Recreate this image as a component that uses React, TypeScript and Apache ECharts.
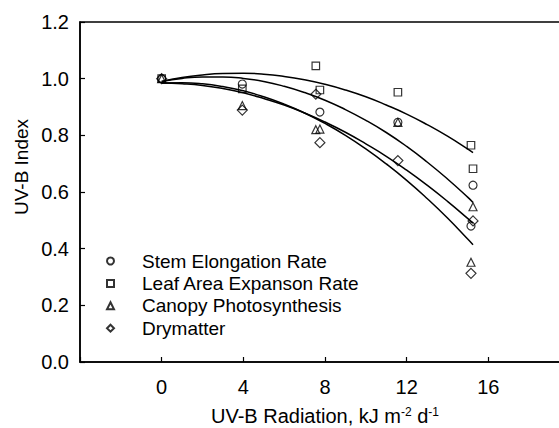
import React, { useEffect, useRef } from "react";
import * as echarts from "echarts";

// Observed data points [UV-B radiation, UV-B index]
const stemElongation: number[][] = [
  [0, 1.0], [3.95, 0.981], [7.75, 0.882], [11.57, 0.846], [15.25, 0.624], [15.15, 0.48],
];
const leafArea: number[][] = [
  [0, 1.0], [3.95, 0.964], [7.55, 1.045], [7.75, 0.96], [11.57, 0.952], [15.15, 0.765], [15.25, 0.682],
];
const canopyPhoto: number[][] = [
  [0, 1.0], [3.95, 0.905], [7.55, 0.82], [7.75, 0.822], [11.57, 0.846], [15.25, 0.548], [15.15, 0.352],
];
const drymatter: number[][] = [
  [0, 1.0], [3.95, 0.889], [7.55, 0.945], [7.75, 0.774], [11.57, 0.711], [15.25, 0.498], [15.15, 0.313],
];

// Fitted curves
const curveX: number[] = [0, 1, 2, 3, 4, 5, 6, 7, 8, 9, 10, 11, 12, 13, 14, 15, 15.25];
const curve1: number[] = [0.99, 1.004, 1.013, 1.018, 1.019, 1.016, 1.008, 0.996, 0.98, 0.96, 0.936, 0.907, 0.875, 0.838, 0.797, 0.751, 0.739];
const curve2: number[] = [0.99, 1.001, 1.006, 1.006, 1.001, 0.99, 0.973, 0.951, 0.924, 0.891, 0.853, 0.81, 0.761, 0.706, 0.646, 0.581, 0.563];
const curve3: number[] = [0.985, 0.982, 0.976, 0.965, 0.95, 0.93, 0.907, 0.879, 0.847, 0.811, 0.77, 0.726, 0.677, 0.624, 0.567, 0.506, 0.49];
const curve4: number[] = [0.985, 0.986, 0.982, 0.972, 0.957, 0.936, 0.91, 0.879, 0.842, 0.8, 0.752, 0.699, 0.641, 0.577, 0.508, 0.433, 0.414];

const seriesNames: string[] = [
  "Stem Elongation Rate",
  "Leaf Area Expanson Rate",
  "Canopy Photosynthesis",
  "Drymatter",
];
const seriesSymbols: string[] = ["circle", "rect", "triangle", "diamond"];
const seriesSizes: number[] = [8, 7.5, 8, 10];

const FONT = "'Liberation Sans', Arial, Helvetica, sans-serif";

export default function App() {
  const ref = useRef<HTMLDivElement>(null);

  useEffect(() => {
    if (!ref.current) return;
    const chart = echarts.init(ref.current, undefined, { renderer: "svg" });
    const pointSets = [stemElongation, leafArea, canopyPhoto, drymatter];
    const curves = [curve1, curve2, curve3, curve4];

    const scatterSeries = pointSets.map((d, i) => ({
      type: "scatter",
      name: seriesNames[i],
      data: d,
      symbol: seriesSymbols[i],
      symbolSize: seriesSizes[i],
      itemStyle: { color: "rgba(0,0,0,0)", borderColor: "#000", borderWidth: 1.2 },
      z: 3,
    }));
    const lineSeries = curves.map((c, i) => ({
      type: "line",
      name: "fit" + (i + 1),
      data: curveX.map((x, j) => [x, c[j]]),
      showSymbol: false,
      symbol: "none",
      smooth: true,
      lineStyle: { color: "#000", width: 1.5 },
      itemStyle: { color: "#000" },
      z: 2,
    }));

    chart.setOption({
      animation: false,
      backgroundColor: "#fff",
      textStyle: { fontFamily: FONT, color: "#000" },
      grid: {
        left: 80,
        top: 22,
        right: 1,
        bottom: 66,
        show: true,
        borderColor: "#000",
        borderWidth: 1.5,
        containLabel: false,
        outerBoundsMode: "none",
      },
      legend: {
        data: seriesNames,
        orient: "vertical",
        left: 101,
        top: 246,
        itemWidth: 7,
        itemHeight: 7,
        itemGap: 2.4,
        selectedMode: false,
        textStyle: {
          fontFamily: FONT,
          fontSize: 19,
          color: "#000",
          lineHeight: 20,
          padding: [0, 0, 0, 23],
        },
      },
      xAxis: {
        type: "value",
        min: -4,
        max: 20,
        interval: 4,
        name: "UV-B Radiation, kJ m{sup|-2} d{sup|-1}",
        nameLocation: "middle",
        nameGap: 44,
        nameTextStyle: {
          fontFamily: FONT,
          fontSize: 20,
          color: "#000",
          verticalAlign: "top",
          rich: {
            sup: { fontFamily: FONT, fontSize: 12, color: "#000", verticalAlign: "top", padding: [0, 0, 8, 0] },
          },
        },
        axisLine: { show: true, onZero: false, lineStyle: { color: "#000", width: 1.5 } },
        axisTick: { show: true, inside: true, length: 5, lineStyle: { color: "#000", width: 1.2 } },
        axisLabel: {
          fontFamily: FONT,
          fontSize: 20,
          color: "#000",
          margin: 15,
          formatter: (v: number) => (v < 0 || v > 16 ? "" : String(v)),
        },
        splitLine: { show: false },
      },
      yAxis: {
        type: "value",
        min: 0,
        max: 1.2,
        interval: 0.2,
        axisLine: { show: true, onZero: false, lineStyle: { color: "#000", width: 1.5 } },
        axisTick: { show: true, inside: true, length: 5, lineStyle: { color: "#000", width: 1.2 } },
        axisLabel: {
          fontFamily: FONT,
          fontSize: 20,
          color: "#000",
          margin: 11,
          formatter: (v: number) => v.toFixed(1),
        },
        splitLine: { show: false },
      },
      graphic: [
        {
          type: "text",
          x: 21,
          y: 167,
          rotation: Math.PI / 2,
          style: {
            text: "UV-B Index",
            fontFamily: FONT,
            fontSize: 19,
            fill: "#000",
            align: "center",
            verticalAlign: "middle",
          },
        },
      ],
      series: [...lineSeries, ...scatterSeries],
    });

    return () => chart.dispose();
  }, []);

  return (
    <div
      ref={ref}
      style={{ position: "fixed", left: 0, top: 0, width: 571, height: 428, overflow: "hidden" }}
    />
  );
}
